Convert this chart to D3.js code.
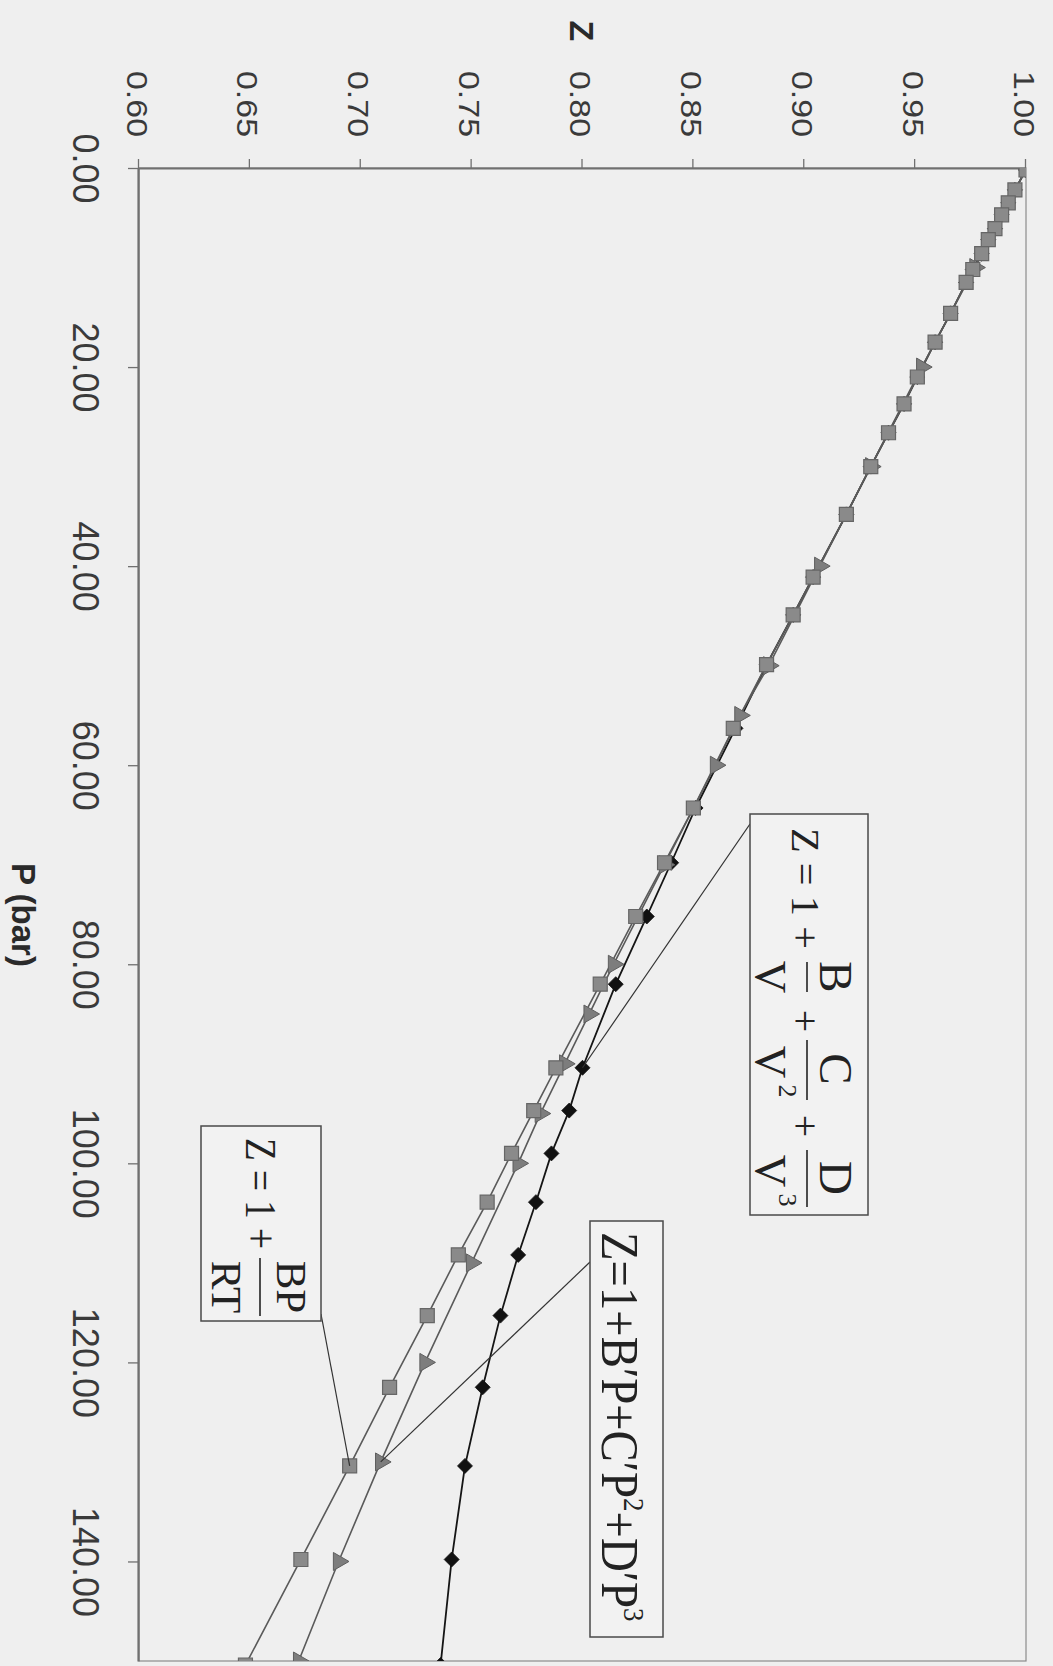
<!DOCTYPE html>
<html>
<head>
<meta charset="utf-8">
<script src="https://cdn.jsdelivr.net/npm/d3@7/dist/d3.min.js"></script>
<style>
  html, body { margin: 0; padding: 0; background: #efefef; }
  svg { display: block; }
</style>
</head>
<body>
<svg id="chart" width="1053" height="1666"></svg>
<script>
// Z vs P, three virial forms. chart is drawn upright and then turned 90deg like the scan

// Z = 1 + BP/RT  (squares)
var pSquare = [0.2, 2.2, 3.5, 4.7, 6.1, 7.2, 8.6, 10.2, 11.5, 14.6, 17.5, 21.0, 23.7, 26.6, 30.0, 34.8, 41.1, 44.9, 49.9, 56.3, 64.3, 69.8, 75.2, 82.0, 90.4, 94.7, 99.0, 103.9, 109.2, 115.3, 122.5, 130.4, 139.8, 150.4];
var zSquare = [1.000, 0.995, 0.992, 0.989, 0.986, 0.983, 0.980, 0.976, 0.973, 0.966, 0.959, 0.951, 0.945, 0.938, 0.930, 0.919, 0.904, 0.895, 0.883, 0.868, 0.850, 0.837, 0.824, 0.808, 0.788, 0.778, 0.768, 0.757, 0.744, 0.730, 0.713, 0.695, 0.673, 0.648];

// Z = 1 + B'P + C'P^2 + D'P^3  (diamonds, same pressures)
var pDiamond = [0.2, 2.2, 3.5, 4.7, 6.1, 7.2, 8.6, 10.2, 11.5, 14.6, 17.5, 21.0, 23.7, 26.6, 30.0, 34.8, 41.1, 44.9, 49.9, 56.3, 64.3, 69.8, 75.2, 82.0, 90.4, 94.7, 99.0, 103.9, 109.2, 115.3, 122.5, 130.4, 139.8, 150.4];
var zDiamond = [1.000, 0.995, 0.992, 0.989, 0.986, 0.983, 0.980, 0.976, 0.973, 0.966, 0.959, 0.951, 0.945, 0.938, 0.930, 0.919, 0.904, 0.895, 0.883, 0.869, 0.851, 0.840, 0.829, 0.815, 0.800, 0.794, 0.786, 0.779, 0.771, 0.763, 0.755, 0.747, 0.741, 0.736];

// Z = 1 + B/V + C/V^2 + D/V^3  (triangles)
var pTriangle = [0.1, 10, 20, 30, 40, 50, 55, 60, 70, 80, 85, 90, 95, 100, 110, 120, 130, 140, 150];
var zTriangle = [1.000, 0.977, 0.953, 0.930, 0.907, 0.884, 0.871, 0.860, 0.837, 0.814, 0.803, 0.792, 0.781, 0.771, 0.750, 0.729, 0.709, 0.690, 0.672];

var pTicks = [0, 20, 40, 60, 80, 100, 120, 140];
var zTicks = [0.60, 0.65, 0.70, 0.75, 0.80, 0.85, 0.90, 0.95, 1.00];

var svg = d3.select("#chart");
svg.append("rect").attr("width", 1053).attr("height", 1666).attr("fill", "#efefef");

// upright frame is 1666 wide, 1053 tall
var g = svg.append("g").attr("transform", "translate(1053,0) rotate(90)");

var x = d3.scaleLinear().domain([0, 150]).range([168, 1661]);
var y = d3.scaleLinear().domain([0.6, 1.0]).range([914, 27]);

g.append("clipPath").attr("id", "plotclip")
  .append("rect").attr("x", 168).attr("y", 27).attr("width", 1661 - 168).attr("height", 914 - 27);

// plot frame
g.append("rect")
  .attr("x", 168).attr("y", 27).attr("width", 1661 - 168).attr("height", 914 - 27)
  .attr("fill", "none").attr("stroke", "#8a8a8a").attr("stroke-width", 1.2);

// P axis
var xAxis = g.append("g").attr("transform", "translate(0,914)")
  .call(d3.axisBottom(x).tickValues(pTicks).tickSize(11).tickSizeOuter(0).tickFormat(d3.format(".2f")));
xAxis.select(".domain").attr("stroke", "#707070").attr("stroke-width", 2.2);
xAxis.selectAll(".tick line").attr("stroke", "#707070").attr("stroke-width", 1.3);
xAxis.selectAll(".tick text")
  .attr("y", 66).attr("dy", 0)
  .attr("font-family", "Liberation Sans, Arial, sans-serif").attr("font-size", 36).attr("fill", "#3a3a3a");

// Z axis
var yAxis = g.append("g").attr("transform", "translate(168,0)")
  .call(d3.axisLeft(y).tickValues(zTicks).tickSize(9).tickSizeOuter(0).tickFormat(d3.format(".2f")));
yAxis.select(".domain").attr("stroke", "#707070").attr("stroke-width", 2.2);
yAxis.selectAll(".tick line").attr("stroke", "#707070").attr("stroke-width", 1.3);
yAxis.selectAll(".tick text")
  .attr("x", -31).attr("y", 12).attr("dy", 0)
  .attr("font-family", "Liberation Sans, Arial, sans-serif").attr("font-size", 29).attr("fill", "#3a3a3a")
  .attr("textLength", 66).attr("lengthAdjust", "spacingAndGlyphs");

// axis titles
g.append("text").attr("x", 31).attr("y", 483).attr("text-anchor", "middle")
  .attr("font-family", "Liberation Sans, Arial, sans-serif").attr("font-weight", "bold")
  .attr("font-size", 34).attr("fill", "#2a2a2a").text("Z");
g.append("text").attr("x", 915).attr("y", 1041).attr("text-anchor", "middle")
  .attr("font-family", "Liberation Sans, Arial, sans-serif").attr("font-weight", "bold")
  .attr("font-size", 33).attr("fill", "#2a2a2a").text("P (bar)");

var plot = g.append("g").attr("clip-path", "url(#plotclip)");

function series(ps, zs) {
  return ps.map(function(p, i) { return {p: p, z: zs[i]}; });
}
var line = d3.line().x(function(d) { return x(d.p); }).y(function(d) { return y(d.z); });

var sq = series(pSquare, zSquare),
    tri = series(pTriangle, zTriangle),
    dia = series(pDiamond, zDiamond);

plot.append("path").datum(dia).attr("d", line)
  .attr("fill", "none").attr("stroke", "#151515").attr("stroke-width", 1.8);
plot.append("path").datum(tri).attr("d", line)
  .attr("fill", "none").attr("stroke", "#5a5a5a").attr("stroke-width", 1.6);
plot.append("path").datum(sq).attr("d", line)
  .attr("fill", "none").attr("stroke", "#5a5a5a").attr("stroke-width", 1.6);

// diamonds underneath, gray squares on top (as in the scan)
plot.selectAll(".dia").data(dia).enter().append("path")
  .attr("class", "dia")
  .attr("transform", function(d) { return "translate(" + x(d.p) + "," + y(d.z) + ")"; })
  .attr("d", "M0,-7.5L7.5,0L0,7.5L-7.5,0Z")
  .attr("fill", "#111").attr("stroke", "#111").attr("stroke-width", 0.8);

plot.selectAll(".tri").data(tri).enter().append("path")
  .attr("class", "tri")
  .attr("transform", function(d) { return "translate(" + x(d.p) + "," + y(d.z) + ")"; })
  .attr("d", d3.symbol().type(d3.symbolTriangle).size(140))
  .attr("fill", "#7d7d7d").attr("stroke", "#5e5e5e").attr("stroke-width", 1);

plot.selectAll(".sq").data(sq).enter().append("path")
  .attr("class", "sq")
  .attr("transform", function(d) { return "translate(" + x(d.p) + "," + y(d.z) + ")"; })
  .attr("d", d3.symbol().type(d3.symbolSquare).size(196))
  .attr("fill", "#8a8a8a").attr("stroke", "#666").attr("stroke-width", 1.2);

// leader lines from the formula boxes
function pick(arr, p) { return arr.filter(function(d) { return d.p === p; })[0]; }
var dLead = pick(dia, 90.4), sLead = pick(sq, 130.4), tLead = pick(tri, 130);
g.append("line").attr("x1", 824).attr("y1", 303).attr("x2", x(dLead.p)).attr("y2", y(dLead.z))
  .attr("stroke", "#333").attr("stroke-width", 1.2);
g.append("line").attr("x1", 1314).attr("y1", 732).attr("x2", x(sLead.p)).attr("y2", y(sLead.z))
  .attr("stroke", "#333").attr("stroke-width", 1.2);
g.append("line").attr("x1", 1262).attr("y1", 463).attr("x2", x(tLead.p)).attr("y2", y(tLead.z))
  .attr("stroke", "#333").attr("stroke-width", 1.2);

var serif = "Liberation Serif, Times New Roman, serif";

function box(x0, y0, w, h) {
  g.append("rect").attr("x", x0).attr("y", y0).attr("width", w).attr("height", h)
    .attr("fill", "#f2f2f2").attr("stroke", "#4a4a4a").attr("stroke-width", 1.5);
}
function txt(tx, ty, size, s, anchor) {
  return g.append("text").attr("x", tx).attr("y", ty).attr("font-family", serif)
    .attr("font-size", size).attr("fill", "#222").attr("text-anchor", anchor || "middle").text(s);
}
function bar(x1, x2, yy) {
  g.append("line").attr("x1", x1).attr("x2", x2).attr("y1", yy).attr("y2", yy)
    .attr("stroke", "#222").attr("stroke-width", 1.6);
}

// box 1 : Z = 1 + B/V + C/V^2 + D/V^3
box(814, 185, 401, 118);
txt(828, 261, 40, "Z = 1 +", "start").attr("textLength", 121).attr("lengthAdjust", "spacingAndGlyphs");
txt(977, 233, 47, "B"); bar(962, 992, 246); txt(977, 297, 45, "V");
txt(1021, 261, 40, "+");
txt(1069, 233, 47, "C"); bar(1040, 1100, 246);
txt(1062, 297, 45, "V"); txt(1091, 274, 26, "2");
txt(1126, 261, 40, "+");
txt(1178, 233, 47, "D"); bar(1150, 1207, 246);
txt(1171, 297, 45, "V"); txt(1200, 274, 26, "3");

// box 2 : Z = 1 + BP/RT
box(1126, 732, 195, 120);
txt(1138, 807, 44, "Z = 1 +", "start").attr("textLength", 111).attr("lengthAdjust", "spacingAndGlyphs");
txt(1287, 776, 43, "BP"); bar(1258, 1316, 793); txt(1287, 841, 43, "RT");

// box 3 : Z = 1 + B'P + C'P^2 + D'P^3
box(1221, 390, 416, 73);
var t3 = g.append("text").attr("transform", "translate(1232,451) scale(0.9,1)")
  .attr("font-family", serif).attr("font-size", 52).attr("fill", "#222");
t3.append("tspan").text("Z=1+B\u2032P+C\u2032P");
t3.append("tspan").attr("font-size", 30).attr("dy", -22).text("2");
t3.append("tspan").attr("dy", 22).text("+D\u2032P");
t3.append("tspan").attr("font-size", 30).attr("dy", -22).text("3");
</script>
</body>
</html>
